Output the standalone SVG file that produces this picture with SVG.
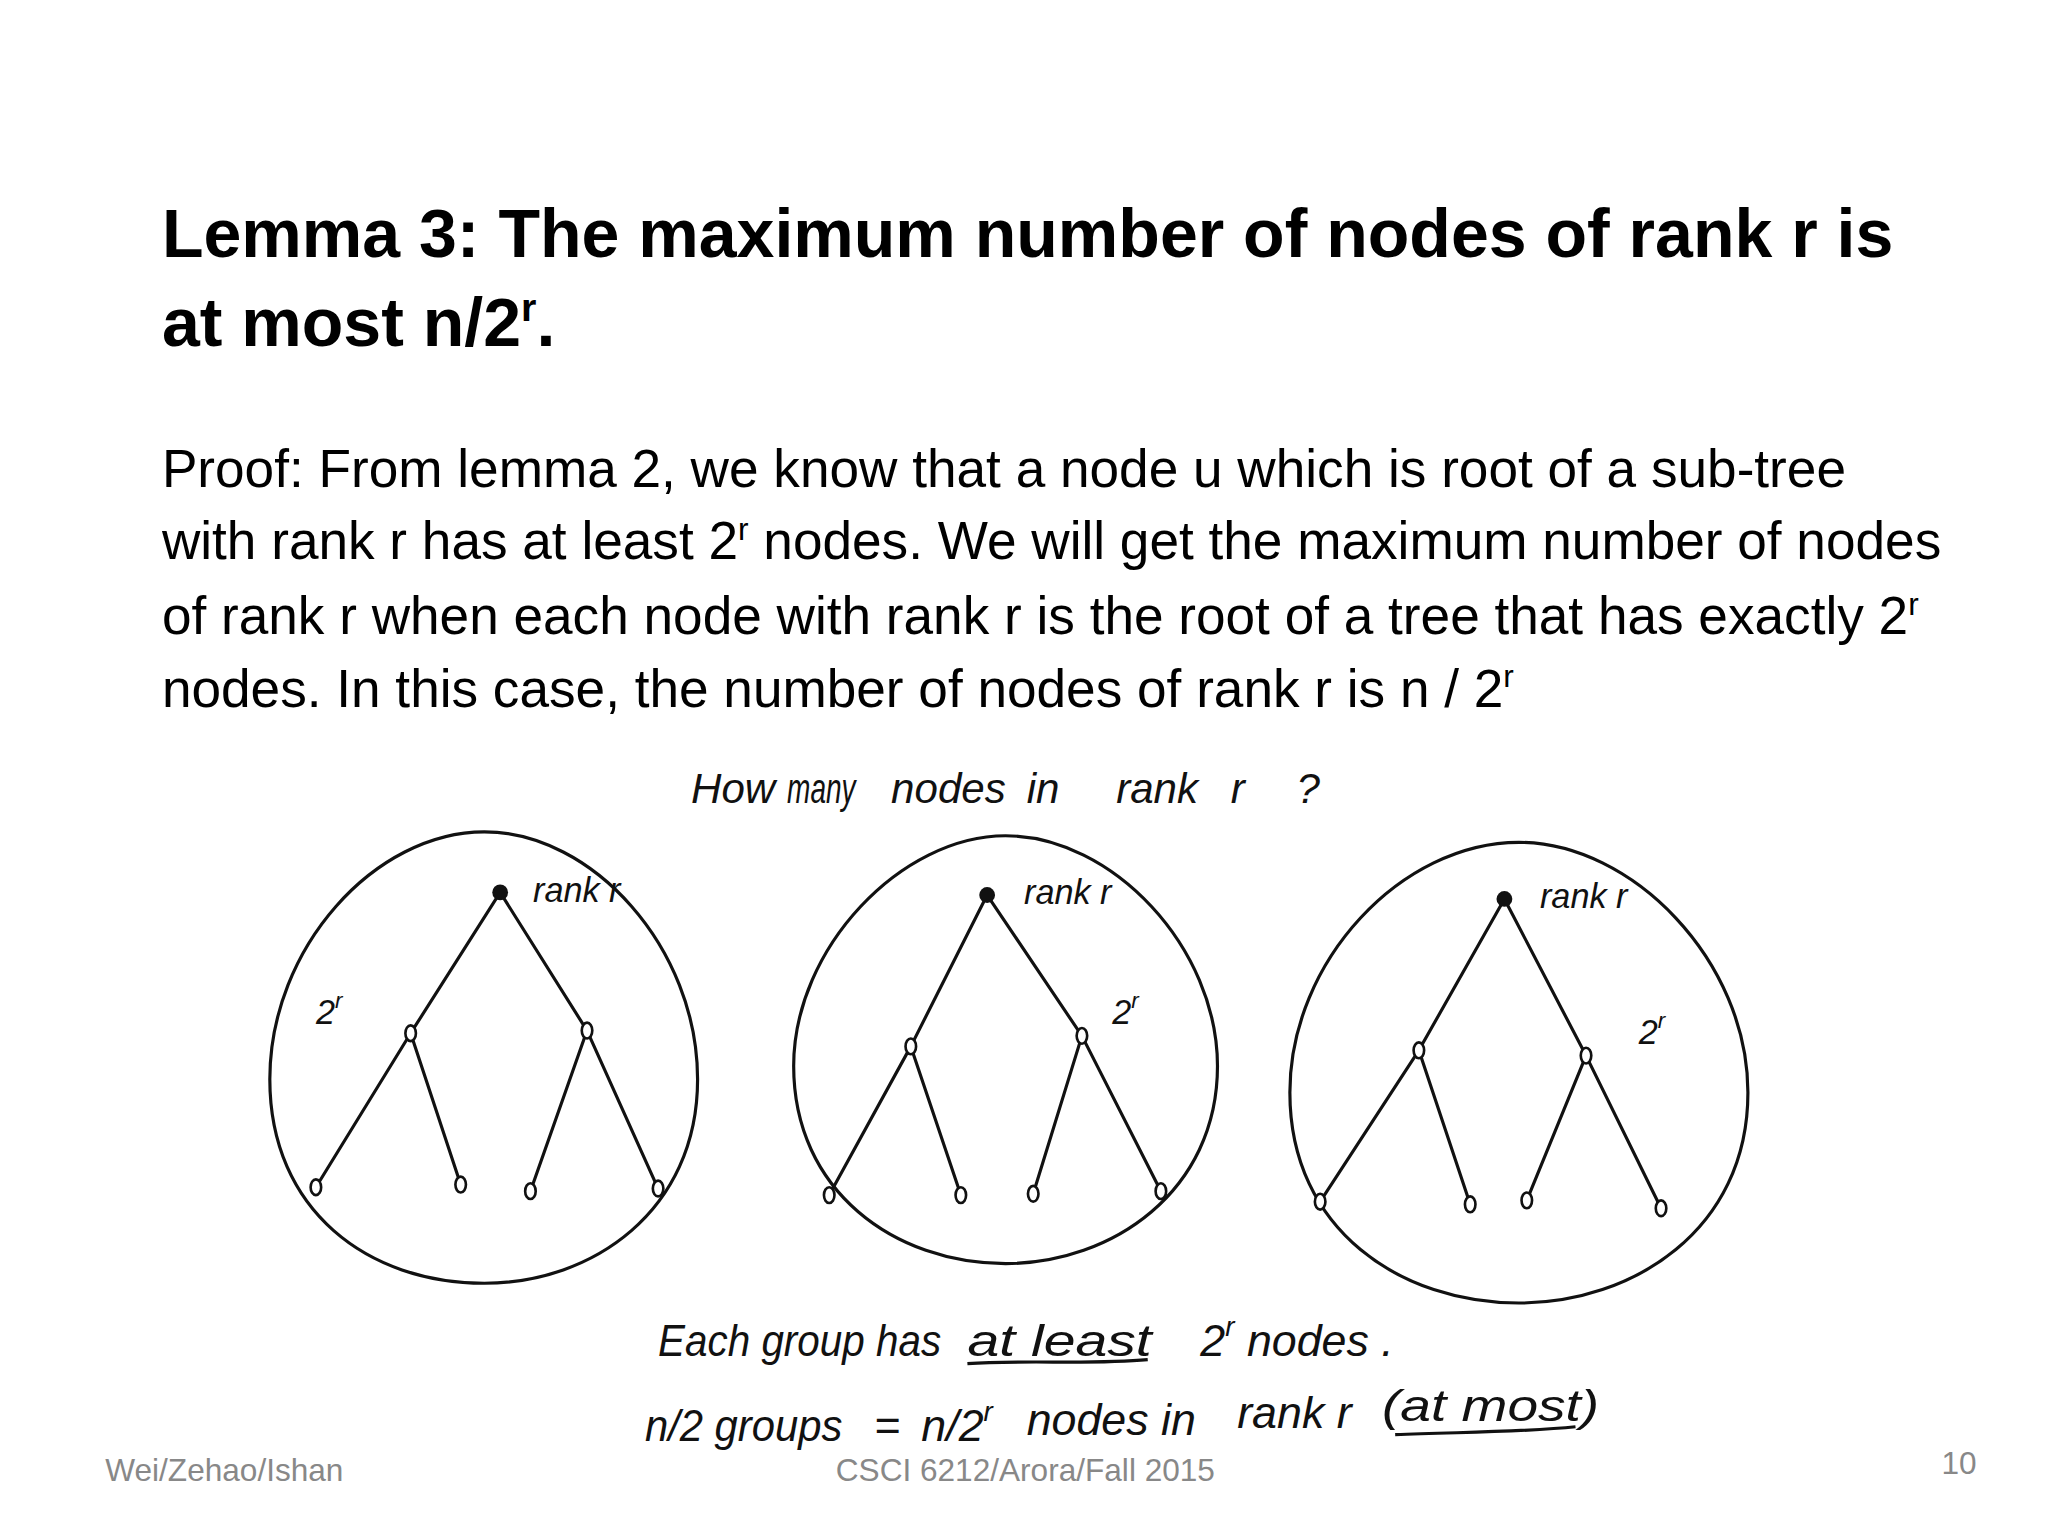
<svg xmlns="http://www.w3.org/2000/svg" width="2048" height="1536" viewBox="0 0 2048 1536">
<style>
.t{font-family:"Liberation Sans",Arial,sans-serif;fill:#000}
.h{font-family:"Liberation Sans",Arial,sans-serif;font-style:italic;fill:#111}
.f{font-family:"Liberation Sans",Arial,sans-serif;fill:#888;font-size:24px}
.e{fill:none;stroke:#111;stroke-width:2.4}
.n{fill:#fff;stroke:#111;stroke-width:2}
</style>
<rect width="2048" height="1536" fill="#fff"/>
<g transform="scale(1.3162)">
<g id="title" class="t" font-weight="bold" font-size="51.7">
<text x="123" y="195">Lemma 3: The maximum number of nodes of rank r is</text>
<text x="123" y="263">at most n/2<tspan font-size="30" dy="-19">r</tspan><tspan dy="19">.</tspan></text>
</g>
<g id="proof" class="t" font-size="40.4">
<text x="123" y="370">Proof: From lemma 2, we know that a node u which is root of a sub-tree</text>
<text x="123" y="425">with rank r has at least 2<tspan font-size="24" dy="-15">r</tspan><tspan dy="15"> nodes. We will get the maximum number of nodes</tspan></text>
<text x="123" y="482">of rank r when each node with rank r is the root of a tree that has exactly 2<tspan font-size="24" dy="-15">r</tspan></text>
<text x="123" y="537">nodes. In this case, the number of nodes of rank r is n / 2<tspan font-size="24" dy="-15">r</tspan></text>
</g>
<g id="question" class="h" font-size="32">
<text x="525" y="610">How</text><text x="598" y="610" textLength="52" lengthAdjust="spacingAndGlyphs">many</text><text x="677" y="610">nodes</text><text x="780" y="610">in</text><text x="848" y="610">rank</text><text x="935" y="610">r</text><text x="985" y="610">?</text>
</g>
<g id="tree1">
<path class="e" d="M368,632 C450,632 530,720 530,820 C530,920 450,975 368,975 C280,975 205,920 205,820 C205,720 285,632 368,632Z"/>
<path class="e" d="M380,678 L312,785 M380,678 L446,783 M312,785 L240,902 M312,785 L350,900 M446,783 L403,905 M446,783 L500,903"/>
<circle cx="380" cy="678" r="6" fill="#111"/>
<ellipse class="n" cx="312" cy="785" rx="4" ry="6"/><ellipse class="n" cx="446" cy="783" rx="4" ry="6"/>
<ellipse class="n" cx="240" cy="902" rx="4" ry="6"/><ellipse class="n" cx="350" cy="900" rx="4" ry="6"/><ellipse class="n" cx="403" cy="905" rx="4" ry="6"/><ellipse class="n" cx="500" cy="903" rx="4" ry="6"/>
<text class="h" x="405" y="685" font-size="26">rank r</text>
<text class="h" x="240" y="778" font-size="26">2<tspan font-size="17" dy="-12">r</tspan></text>
</g>
<g id="tree2">
<path class="e" d="M764,635 C845,635 925,720 925,810 C925,905 845,960 764,960 C680,960 603,905 603,810 C603,720 685,635 764,635Z"/>
<path class="e" d="M750,680 L692,795 M750,680 L822,787 M692,795 L630,908 M692,795 L730,908 M822,787 L785,907 M822,787 L882,905"/>
<circle cx="750" cy="680" r="6" fill="#111"/>
<ellipse class="n" cx="692" cy="795" rx="4" ry="6"/><ellipse class="n" cx="822" cy="787" rx="4" ry="6"/>
<ellipse class="n" cx="630" cy="908" rx="4" ry="6"/><ellipse class="n" cx="730" cy="908" rx="4" ry="6"/><ellipse class="n" cx="785" cy="907" rx="4" ry="6"/><ellipse class="n" cx="882" cy="905" rx="4" ry="6"/>
<text class="h" x="778" y="687" font-size="26">rank r</text>
<text class="h" x="845" y="778" font-size="26">2<tspan font-size="17" dy="-12">r</tspan></text>
</g>
<g id="tree3">
<path class="e" d="M1154,640 C1240,640 1328,730 1328,830 C1328,935 1240,990 1154,990 C1065,990 980,935 980,830 C980,730 1065,640 1154,640Z"/>
<path class="e" d="M1143,683 L1078,798 M1143,683 L1205,802 M1078,798 L1003,913 M1078,798 L1117,915 M1205,802 L1160,912 M1205,802 L1262,918"/>
<circle cx="1143" cy="683" r="6" fill="#111"/>
<ellipse class="n" cx="1078" cy="798" rx="4" ry="6"/><ellipse class="n" cx="1205" cy="802" rx="4" ry="6"/>
<ellipse class="n" cx="1003" cy="913" rx="4" ry="6"/><ellipse class="n" cx="1117" cy="915" rx="4" ry="6"/><ellipse class="n" cx="1160" cy="912" rx="4" ry="6"/><ellipse class="n" cx="1262" cy="918" rx="4" ry="6"/>
<text class="h" x="1170" y="690" font-size="26">rank r</text>
<text class="h" x="1245" y="793" font-size="26">2<tspan font-size="17" dy="-12">r</tspan></text>
</g>
<g id="notes" class="h" font-size="34">
<text x="500" y="1030" textLength="215" lengthAdjust="spacingAndGlyphs">Each group has</text>
<text x="735" y="1030" textLength="140" lengthAdjust="spacingAndGlyphs">at least</text>
<text x="912" y="1030">2<tspan font-size="21" dy="-15">r</tspan><tspan dy="15"> nodes .</tspan></text>
<path class="e" d="M735,1036 C780,1033 830,1037 872,1033"/>
<text x="490" y="1095" textLength="150" lengthAdjust="spacingAndGlyphs">n/2 groups</text>
<text x="664" y="1095">=</text>
<text x="700" y="1095">n/2<tspan font-size="21" dy="-15">r</tspan></text>
<text x="780" y="1090">nodes in</text>
<text x="940" y="1085">rank r</text>
<text x="1050" y="1080" textLength="165" lengthAdjust="spacingAndGlyphs">(at most)</text>
<path class="e" d="M1060,1090 C1110,1088 1160,1088 1197,1084"/>
</g>
<g id="footer">
<text class="f" x="80" y="1125">Wei/Zehao/Ishan</text>
<text class="f" x="635" y="1125">CSCI 6212/Arora/Fall 2015</text>
<text class="f" x="1475" y="1120">10</text>
</g>
</g>
</svg>
